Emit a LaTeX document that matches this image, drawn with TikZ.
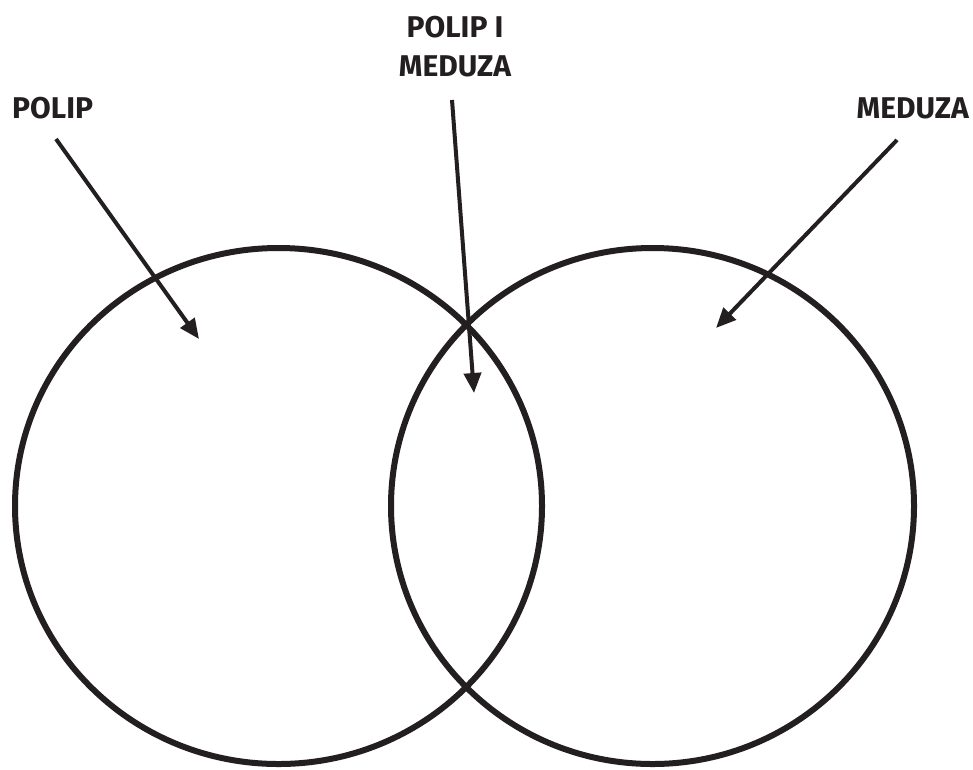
\documentclass[tikz,border=0pt]{standalone}
\usepackage{fontspec}
\setmainfont{Fira Sans}
\usetikzlibrary{arrows.meta}
\definecolor{ink}{HTML}{231F20}
\begin{document}
\begin{tikzpicture}[x=1pt,y=-1pt,
  lbl/.style={inner sep=0pt,font=\fontsize{30}{39}\selectfont\bfseries,text=ink},
  ring/.style={draw=ink,line width=6pt},
  pointer/.style={draw=ink,line width=4pt,-{Triangle[length=20pt,width=17pt]}}]
\useasboundingbox (0,0) rectangle (973,769);
\fill[white] (0,0) rectangle (973,769);
\draw[ring] (278.5,506) ellipse [x radius=263.5,y radius=258];
\draw[ring] (652.5,506) ellipse [x radius=261.5,y radius=258];
\node[lbl,anchor=base west] (polip) at (12,118) {POLIP};
\node[lbl,anchor=base east] (meduza) at (969,118) {MEDUZA};
\node[lbl,align=center,anchor=base] (both) at (455,76) {POLIP I\\MEDUZA};
\coordinate (s1) at (56,139);
\coordinate (t1) at (199,339);
\coordinate (s2) at (452,100);
\coordinate (t2) at (474,393);
\coordinate (s3) at (897,140);
\coordinate (t3) at (716,328);
\draw[pointer] (s1) -- (t1);
\draw[pointer] (s2) -- (t2);
\draw[pointer] (s3) -- (t3);
\end{tikzpicture}
\end{document}
